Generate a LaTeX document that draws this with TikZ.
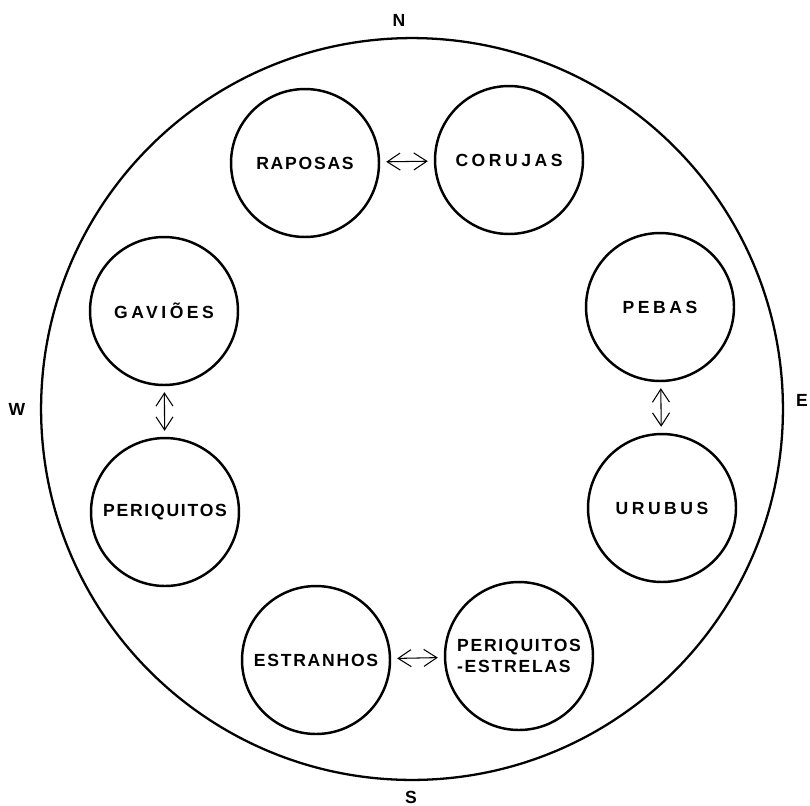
\documentclass[tikz,border=0pt]{standalone}
\usepackage{fontspec}
\setmainfont{Liberation Sans}
\usetikzlibrary{arrows.meta}

\begin{document}
\begin{tikzpicture}[x=0.02cm,y=-0.02cm,<->,>={Straight Barb[length=2.6mm,width=3.4mm]},shorten >=1.2mm,shorten <=1.2mm,semithick,
  main node/.style={circle,draw,line width=1.4pt,minimum size=2.96cm,inner sep=0pt,align=center,font=\bfseries\fontsize{10}{12}\selectfont\addfontfeatures{LetterSpace=10}},
  wide node/.style={main node,font=\bfseries\fontsize{10}{12}\selectfont\addfontfeatures{LetterSpace=20}},
  pole/.style={font=\bfseries\fontsize{10}{12}\selectfont}]

	      \useasboundingbox (0,0) rectangle (810,805);

	      \node[circle,draw,line width=1.3pt,minimum size=14.84cm] at (412,409) (ring) {};

	      \node[pole] at (399,20) (n) {N};
	      \node[pole] at (411,797) (s) {S};
	      \node[pole] at (17,409) (w) {W};
	      \node[pole] at (802,400) (e) {E};

	      \node[main node] at (305,163) (1) {RAPOSAS};
	      \node[wide node] at (509,160) (2) {CORUJAS};
	      \node[wide node] at (164,311) (3) {GAVIÕES};
	      \node[main node] at (165,512) (4) {PERIQUITOS};
	      \node[wide node] at (660,307) (5) {PEBAS};
	      \node[wide node] at (662,508) (6) {URUBUS};
	      \node[main node] at (316,660) (7) {ESTRANHOS};
	      \node[main node,align=left] at (519,656) (8) {PERIQUITOS\\-ESTRELAS};

	      \path
	      (1) edge (2)
	      (3) edge (4)
	      (5) edge (6)
	      (7) edge (8)
	      ;

	    \end{tikzpicture}
\end{document}
